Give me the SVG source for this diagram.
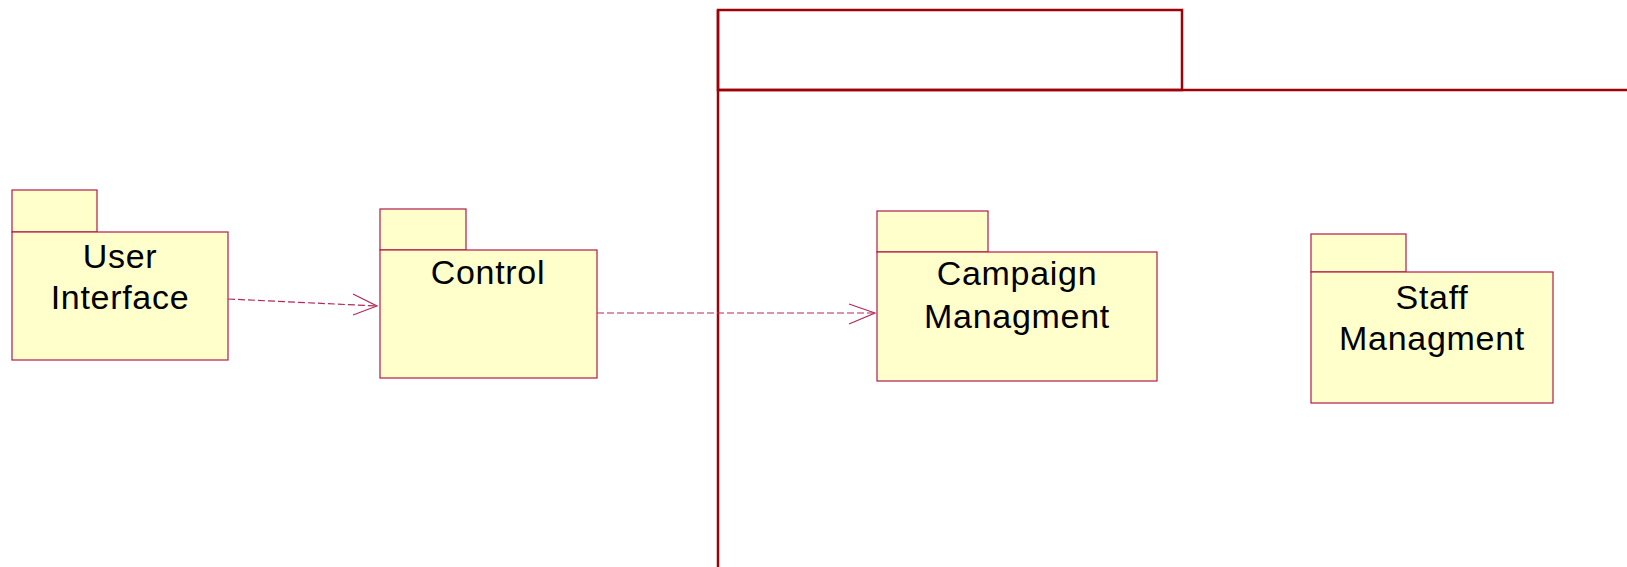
<svg xmlns="http://www.w3.org/2000/svg" width="1627" height="567" viewBox="0 0 1627 567">
  <style>
    .pkg { fill: #FFFFCC; stroke: #B3194B; stroke-width: 1.2; }
    .lbl { font-family: "Liberation Sans", Arial, sans-serif; font-size: 34px; letter-spacing: 0.7px; fill: #000; text-anchor: middle; }
    .frame { fill: none; stroke: #A00008; stroke-width: 2.5; }
    .dep { fill: none; stroke: #B3285A; stroke-width: 1.2; stroke-dasharray: 7 3; }
    .head { fill: none; stroke: #B3285A; stroke-width: 1.2; }
  </style>
  <rect width="1627" height="567" fill="#FFFFFF"/>

  <!-- enclosing package frame -->
  <g id="frame">
    <rect class="frame" x="718" y="10" width="464" height="80"/>
    <path class="frame" d="M718 90 H1627 M718 10 V567"/>
  </g>

  <g id="user-interface">
    <rect class="pkg" x="12" y="190" width="85" height="42"/>
    <rect class="pkg" x="12" y="232" width="216" height="128"/>
    <text class="lbl" x="120" y="268">User</text>
    <text class="lbl" x="120" y="309">Interface</text>
  </g>

  <g id="control">
    <rect class="pkg" x="380" y="209" width="86" height="41"/>
    <rect class="pkg" x="380" y="250" width="217" height="128"/>
    <text class="lbl" x="488" y="284">Control</text>
  </g>

  <g id="campaign-managment">
    <rect class="pkg" x="877" y="211" width="111" height="41"/>
    <rect class="pkg" x="877" y="252" width="280" height="129"/>
    <text class="lbl" x="1017" y="285">Campaign</text>
    <text class="lbl" x="1017" y="328">Managment</text>
  </g>

  <g id="staff-managment">
    <rect class="pkg" x="1311" y="234" width="95" height="38"/>
    <rect class="pkg" x="1311" y="272" width="242" height="131"/>
    <text class="lbl" x="1432" y="309">Staff</text>
    <text class="lbl" x="1432" y="350">Managment</text>
  </g>

  <g id="connectors">
    <path class="dep" d="M228 299 L377 306"/>
    <path class="head" d="M353 294 L377 306 L353 315"/>
    <path class="dep" d="M597 313 L875 313"/>
    <path class="head" d="M849 304 L875 313 L849 324"/>
  </g>
</svg>
